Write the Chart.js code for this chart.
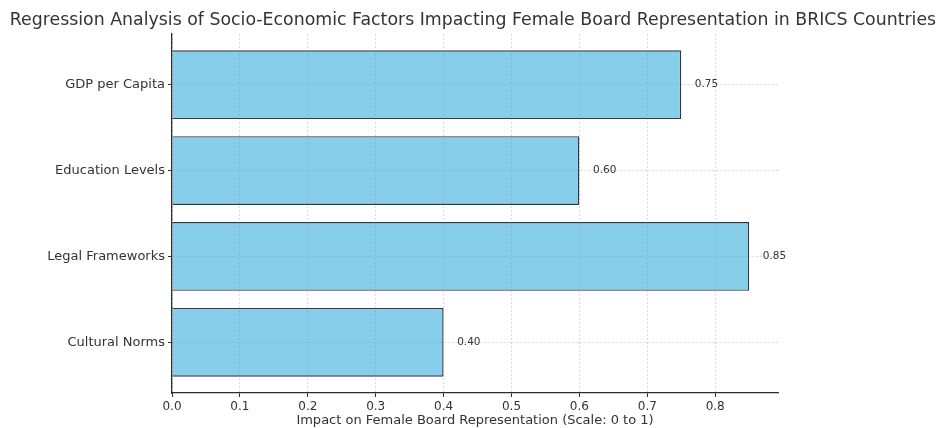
<!DOCTYPE html>
<html>
<head>
<meta charset="utf-8">
<script src="https://cdn.jsdelivr.net/npm/chart.js@4.4.1/dist/chart.umd.min.js"></script>
<style>
  html, body { margin: 0; padding: 0; background: #fff; }
  #wrap { width: 940px; height: 428px; position: relative; }
</style>
</head>
<body>
<div id="wrap"><canvas id="regChart"></canvas></div>
<script>
// Factors, top to bottom as shown in the chart
const categories = ['GDP per Capita', 'Education Levels', 'Legal Frameworks', 'Cultural Norms'];
const impactValues = [0.75, 0.60, 0.85, 0.40];
const xTickValues = [0.0, 0.1, 0.2, 0.3, 0.4, 0.5, 0.6, 0.7, 0.8];
const chartTitle = 'Regression Analysis of Socio-Economic Factors Impacting Female Board Representation in BRICS Countries';

const FONT = 'DejaVu Sans';
const TEXT = '#333333';
const GRID = 'rgba(120, 120, 120, 0.35)';

// value labels to the right of each bar + the title (drawn by hand so it can run wider than the plot)
const barLabels = {
  id: 'barLabels',
  afterDraw(chart) {
    const ctx = chart.ctx;
    const meta = chart.getDatasetMeta(0);
    const xs = chart.scales.x;
    ctx.save();
    ctx.font = '10.5px "' + FONT + '"';
    ctx.fillStyle = TEXT;
    ctx.textAlign = 'left';
    ctx.textBaseline = 'middle';
    meta.data.forEach((bar, i) => {
      const v = impactValues[i];
      ctx.fillText(v.toFixed(2), xs.getPixelForValue(v + 0.02), bar.y);
    });

    ctx.font = '17.35px "' + FONT + '"';
    ctx.textAlign = 'center';
    ctx.fillText(chartTitle, 473, 20);
    ctx.restore();
  }
};

const gridOpts = {
  z: 1,
  offset: false,
  color: GRID,
  lineWidth: 0.8,
  tickLength: 4,
  tickColor: TEXT,
  tickWidth: 1,
  tickBorderDash: []
};
const borderOpts = { display: true, color: '#2b2b2b', width: 1.3, dash: [2, 2], z: 2 };

const ctx = document.getElementById('regChart').getContext('2d');

new Chart(ctx, {
  type: 'bar',
  data: {
    datasets: [{
      data: impactValues.map((v, i) => ({ x: v, y: i })),
      backgroundColor: '#87CEEB',
      borderColor: '#2f3a44',
      borderWidth: 1.4,
      barPercentage: 0.8,
      categoryPercentage: 1.0
    }]
  },
  options: {
    indexAxis: 'y',
    responsive: true,
    maintainAspectRatio: false,
    animation: false,
    layout: { padding: { left: 0, right: 162, top: 34, bottom: 0 } },
    plugins: {
      legend: { display: false },
      tooltip: { enabled: false },
      title: { display: false }
    },
    scales: {
      x: {
        type: 'linear',
        min: 0,
        max: 0.8925,
        afterBuildTicks: axis => { axis.ticks = xTickValues.map(v => ({ value: v })); },
        afterFit: axis => { axis.height = 35; },
        ticks: {
          color: TEXT,
          font: { family: FONT, size: 12 },
          padding: 3,
          callback: v => Number(v).toFixed(1)
        },
        grid: gridOpts,
        border: borderOpts,
        title: {
          display: true,
          text: 'Impact on Female Board Representation (Scale: 0 to 1)',
          color: TEXT,
          font: { family: FONT, size: 13 },
          padding: { top: 0, bottom: 0 }
        }
      },
      y: {
        type: 'linear',
        offset: false,
        reverse: true,
        min: -0.59,
        max: 3.59,
        afterBuildTicks: axis => { axis.ticks = categories.map((c, i) => ({ value: i })); },
        afterFit: axis => { axis.width = 172; },
        ticks: {
          color: TEXT,
          font: { family: FONT, size: 13 },
          padding: 3,
          callback: v => categories[v]
        },
        grid: gridOpts,
        border: borderOpts
      }
    }
  },
  plugins: [barLabels]
});
</script>
</body>
</html>
